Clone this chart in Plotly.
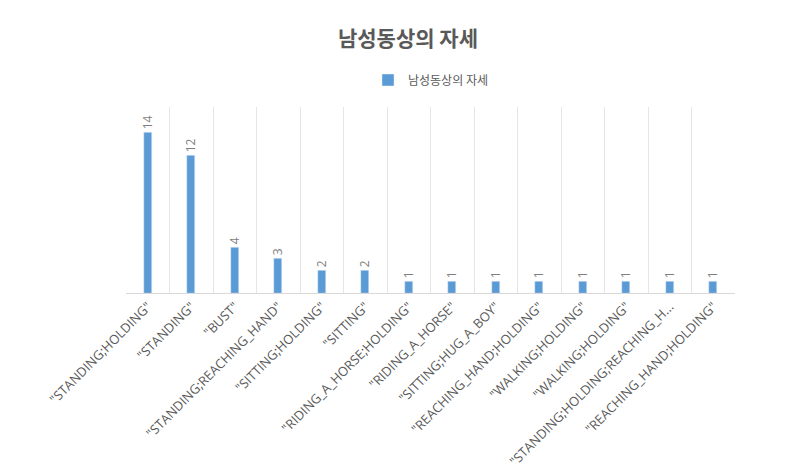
import plotly.graph_objects as go

labels = ['"STANDING;HOLDING"', '"STANDING"', '"BUST"', '"STANDING;REACHING_HAND"',
          '"SITTING;HOLDING"', '"SITTING"', '"RIDING_A_HORSE;HOLDING"', '"RIDING_A_HORSE"',
          '"SITTING;HUG_A_BOY"', '"REACHING_HAND;HOLDING"', '"WALKING;HOLDING"',
          '"WALKING;HOLDING"', '"STANDING;HOLDING;REACHING_H...', '"REACHING_HAND;HOLDING"']
counts = [14, 12, 4, 3, 2, 2, 1, 1, 1, 1, 1, 1, 1, 1]
series_name = "남성동상의 자세"

xs = list(range(len(labels)))
FONT = "Noto Sans CJK KR"

fig = go.Figure(go.Bar(
    x=xs, y=counts, name=series_name, width=0.18,
    marker_color="#5B9BD5",
    text=counts, textposition="outside", textangle=-90, constraintext="none",
    textfont=dict(color="#7f7f7f", size=12, family="Open Sans"), cliponaxis=False,
    showlegend=True))

fig.update_layout(
    width=800, height=474, plot_bgcolor="white", paper_bgcolor="white",
    font=dict(family=FONT, color="#595959"),
    uniformtext=dict(minsize=12, mode="show"),
    title=dict(text="<b>남성동상의 자세</b>", x=0.5, y=0.935, yref="container",
               xanchor="center", yanchor="middle",
               font=dict(size=21, color="#595959")),
    legend=dict(orientation="h", x=0.5, xanchor="center", y=1 - 72 / 474,
                yref="container", yanchor="middle",
                font=dict(size=12, color="#595959")),
    margin=dict(l=118, r=73, t=96, b=189),
    bargap=0)
fig.update_xaxes(tickvals=xs, ticktext=labels, tickangle=-45, range=[-0.5, len(labels) - 0.5],
                 showgrid=False, showline=True, linecolor="#d9d9d9", ticks="",
                 tickfont=dict(size=13, color="#595959", family="Open Sans"),
                 minor=dict(tick0=-0.5, dtick=1, showgrid=True, gridcolor="#e6e6e6"))
fig.update_yaxes(visible=False, range=[0, 16.3])

fig.write_html("out.html")
